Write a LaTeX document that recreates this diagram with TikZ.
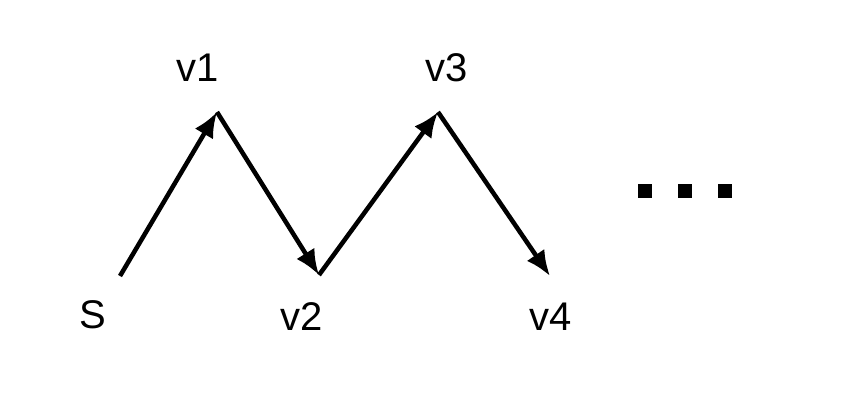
\documentclass[tikz,border=0pt]{standalone}
\usepackage{fontspec}
\setmainfont{Liberation Sans}
\usetikzlibrary{arrows.meta}
\tikzset{
  vlabel/.style={inner sep=0pt, font=\fontsize{30}{36}\selectfont},
  walk/.style={line width=3.4pt, -{Latex[length=19pt,width=16pt]}}
}
\begin{document}
\begin{tikzpicture}[x=0.75pt,y=-0.75pt]
  \useasboundingbox (0,0) rectangle (854,404);
  % turning points of the walk
  \coordinate (ps) at (120,276);
  \coordinate (p1) at (217,112);
  \coordinate (p2) at (319,275);
  \coordinate (p3) at (438,112);
  \coordinate (p4) at (550,276);
  % labels
  \node [vlabel] (s)  at (93,315) {S};
  \node [vlabel] (v1) at (198,68) {v1};
  \node [vlabel] (v2) at (302,317) {v2};
  \node [vlabel] (v3) at (447,68) {v3};
  \node [vlabel] (v4) at (551,317) {v4};
  % arrows
  \draw [walk] (ps) -- (p1);
  \draw [walk] (p1) -- (p2);
  \draw [walk] (p2) -- (p3);
  \draw [walk] (p3) -- (p4);
  % trailing dots
  \foreach \x in {645,685,725}
    \fill (\x-7,184) rectangle (\x+7,198);
\end{tikzpicture}
\end{document}
